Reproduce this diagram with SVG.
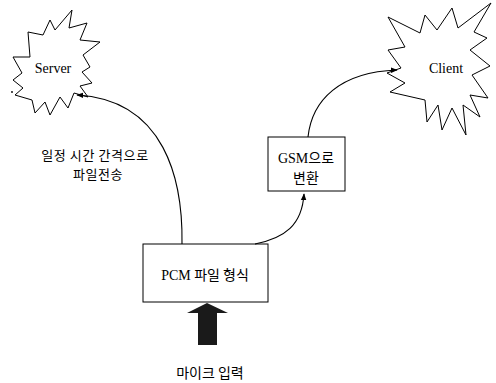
<svg xmlns="http://www.w3.org/2000/svg" width="496" height="383" viewBox="0 0 496 383">
<style>
.shape{fill:#fff;stroke:#000;stroke-width:1}
.lat{font-family:"Liberation Serif","Times New Roman",serif;font-size:14px;fill:#000}
.kr{font-family:"Noto Sans CJK KR","Noto Sans",sans-serif;font-size:14px;fill:#000}
.lbl{font-family:"Noto Sans CJK KR","Noto Sans",sans-serif;font-size:13px;letter-spacing:0.6px;fill:#000}
.conn{fill:none;stroke:#000;stroke-width:1.1}
</style>
<defs>
<marker id="ah" viewBox="0 0 10 10" refX="9" refY="5" markerWidth="7" markerHeight="7" orient="auto" markerUnits="userSpaceOnUse">
<path d="M0,1 L10,5 L0,9 Z" fill="#000"/>
</marker>
</defs>
<rect width="496" height="383" fill="#fff"/>
<g id="server">
<polygon class="shape" points="72,10 69,28 87,23 80,40 100,42 83,55 90,67 82,72 92,83 80,86 88,97 74,93 68,108 60,97 50,115 45,102 35,113 32,100 15,95 23,88 13,80 22,73 13,57 30,57 28,32 43,35 50,20 55,30"/>
<text class="lat" x="53" y="73" text-anchor="middle" font-size="13.5">Server</text>
</g>
<g id="client">
<polygon class="shape" points="491,3 474,32 487,38 470,50 490,66 472,75 488,98 470,95 480,117 463,105 466,135 452,108 442,130 438,105 427,122 425,100 390,92 405,83 387,73 401,68 388,50 405,47 388,17 420,33 425,15 437,30 452,8 458,28"/>
<text class="lat" x="446" y="73" text-anchor="middle" font-size="13.5">Client</text>
</g>
<g id="gsm">
<rect class="shape" x="268" y="137" width="77" height="54"/>
<text class="lat" x="306" y="163" text-anchor="middle">GSM<tspan class="kr">으로</tspan></text>
<text class="kr" x="306" y="183" text-anchor="middle">변환</text>
</g>
<g id="pcm">
<rect class="shape" x="143" y="244" width="125" height="58"/>
<text class="lat" x="205" y="280" text-anchor="middle">PCM <tspan class="kr">파일 형식</tspan></text>
</g>
<g id="mic">
<polygon points="207,303 228,313 217,313 217,345 198,345 198,313 187,313" fill="#1a1a1a"/>
<text class="kr" x="210" y="378" text-anchor="middle" font-size="15">마이크 입력</text>
</g>
<g id="labels">
<text class="lbl" x="95" y="160" text-anchor="middle">일정 시간 간격으로</text>
<text class="lbl" x="98" y="179" text-anchor="middle">파일전송</text>
</g>
<g id="connectors">
<path class="conn" d="M182,244 C183,180 165,100 77,95" marker-end="url(#ah)"/>
<path class="conn" d="M308,137 C312,100 340,72 397,70" marker-end="url(#ah)"/>
<path class="conn" d="M255,244 C285,238 302,225 304,194" marker-end="url(#ah)"/>
</g>
<circle cx="12" cy="92" r="0.9" fill="#000"/>
</svg>
